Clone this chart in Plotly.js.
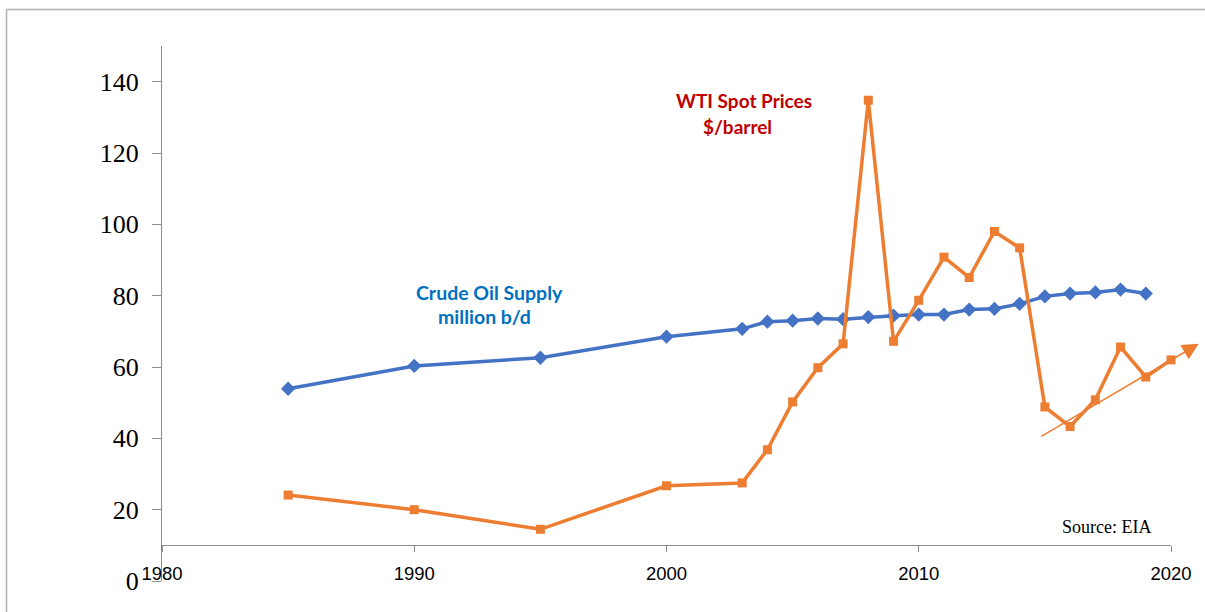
<!DOCTYPE html>
<html>
<head>
<meta charset="utf-8">
<script src="https://cdn.plot.ly/plotly-3.0.1.min.js"></script>
<style>html,body{margin:0;padding:0;background:#fff;}#chart{width:1205px;height:612px;}</style>
</head>
<body>
<div id="chart"></div>
<script>
// Crude oil supply (million b/d)
const supplyYears = [1985,1990,1995,2000,2003,2004,2005,2006,2007,2008,2009,2010,2011,2012,2013,2014,2015,2016,2017,2018,2019];
const supplyValues = [53.9,60.3,62.6,68.5,70.7,72.7,73.0,73.6,73.4,74.0,74.4,74.7,74.7,76.1,76.3,77.7,79.8,80.6,80.9,81.7,80.6];
// WTI spot prices ($/barrel)
const wtiYears = [1985,1990,1995,2000,2003,2004,2005,2006,2007,2008,2009,2010,2011,2012,2013,2014,2015,2016,2017,2018,2019,2020];
const wtiValues = [24.1,20.0,14.5,26.7,27.5,36.8,50.2,59.8,66.5,134.8,67.2,78.7,90.8,85.1,98.0,93.4,48.8,43.3,50.8,65.6,57.2,62.0];
// Axis ticks
const xTickVals = [1980,1990,2000,2010,2020];
const xTickText = ['1980','1990','2000','2010','2020'];
const yTickVals = [0,20,40,60,80,100,120,140];
const yTickText = ['0','20','40','60','80','100','120','140'];
// Trend arrow (start, end)
const trendX = [2014.8, 2021.1];
const trendY = [40.3, 66.5];

const BLUE = '#4472C4', ORANGE = '#ED7D31';

const traces = [
  {x: supplyYears, y: supplyValues, type: 'scatter', mode: 'lines+markers', cliponaxis: false,
   line: {color: BLUE, width: 3.5}, marker: {symbol: 'diamond', size: 11, color: BLUE},
   name: 'Crude Oil Supply', hoverinfo: 'x+y'},
  {x: wtiYears, y: wtiValues, type: 'scatter', mode: 'lines+markers', cliponaxis: false,
   line: {color: ORANGE, width: 3.5}, marker: {symbol: 'square', size: 9, color: ORANGE},
   name: 'WTI Spot Prices', hoverinfo: 'x+y'}
];

const layout = {
  width: 1205, height: 612,
  margin: {l: 162, r: 34, t: 46, b: 31, pad: 0},
  paper_bgcolor: '#ffffff', plot_bgcolor: '#ffffff',
  showlegend: false,
  xaxis: {
    range: [1980, 2020], anchor: 'free', position: 10/150,
    showgrid: false, zeroline: false,
    showline: true, linecolor: '#8c8c8c', linewidth: 1,
    ticks: 'outside', ticklen: 6, tickcolor: '#8c8c8c', tickwidth: 1,
    tickvals: xTickVals, ticktext: xTickText,
    tickfont: {family: 'Liberation Sans, Arial, sans-serif', size: 18.5, color: '#000'},
    ticklabelstandoff: 5
  },
  yaxis: {
    range: [0, 150],
    showgrid: false, zeroline: false,
    showline: true, linecolor: '#8c8c8c', linewidth: 1,
    ticks: 'outside', ticklen: 9, tickcolor: '#8c8c8c', tickwidth: 1,
    tickvals: yTickVals, ticktext: yTickText,
    tickfont: {family: 'Liberation Serif, Times New Roman, serif', size: 26, color: '#000'},
    ticklabelstandoff: 8
  },
  shapes: [
    {type: 'line', xref: 'paper', yref: 'paper', x0: -0.1541, x1: 1.05, y0: 1.0682, y1: 1.0682,
     line: {color: '#b0b0b0', width: 1.5}},
    {type: 'line', xref: 'paper', yref: 'paper', x0: -0.1541, x1: -0.1541, y0: 1.0682, y1: -0.08,
     line: {color: '#b0b0b0', width: 1.5}}
  ],
  annotations: [
    {x: trendX[1], y: trendY[1], ax: trendX[0], ay: trendY[0], axref: 'x', ayref: 'y', xref: 'x', yref: 'y',
     text: '', showarrow: true, arrowhead: 2, arrowsize: 2.2, arrowwidth: 1.5, arrowcolor: ORANGE},
    {x: 2003.07, y: 134.6, xref: 'x', yref: 'y', text: '<b>WTI Spot Prices</b>', showarrow: false,
     font: {family: 'Lato, Liberation Sans, sans-serif', size: 19, color: '#C00000'}, xanchor: 'center', yanchor: 'middle'},
    {x: 2002.80, y: 127.3, xref: 'x', yref: 'y', text: '<b>$/barrel</b>', showarrow: false,
     font: {family: 'Lato, Liberation Sans, sans-serif', size: 19, color: '#C00000'}, xanchor: 'center', yanchor: 'middle'},
    {x: 1992.98, y: 81.0, xref: 'x', yref: 'y', text: '<b>Crude Oil Supply</b>', showarrow: false,
     font: {family: 'Lato, Liberation Sans, sans-serif', size: 19.5, color: '#0070C0'}, xanchor: 'center', yanchor: 'middle'},
    {x: 1992.78, y: 74.3, xref: 'x', yref: 'y', text: '<b>million b/d</b>', showarrow: false,
     font: {family: 'Lato, Liberation Sans, sans-serif', size: 19.5, color: '#0070C0'}, xanchor: 'center', yanchor: 'middle'},
    {x: 2017.46, y: 15.1, xref: 'x', yref: 'y', text: 'Source: EIA', showarrow: false,
     font: {family: 'Liberation Serif, Times New Roman, serif', size: 18, color: '#000'}, xanchor: 'center', yanchor: 'middle'}
  ]
};

Plotly.newPlot('chart', traces, layout, {displayModeBar: false, staticPlot: true});
</script>
</body>
</html>
